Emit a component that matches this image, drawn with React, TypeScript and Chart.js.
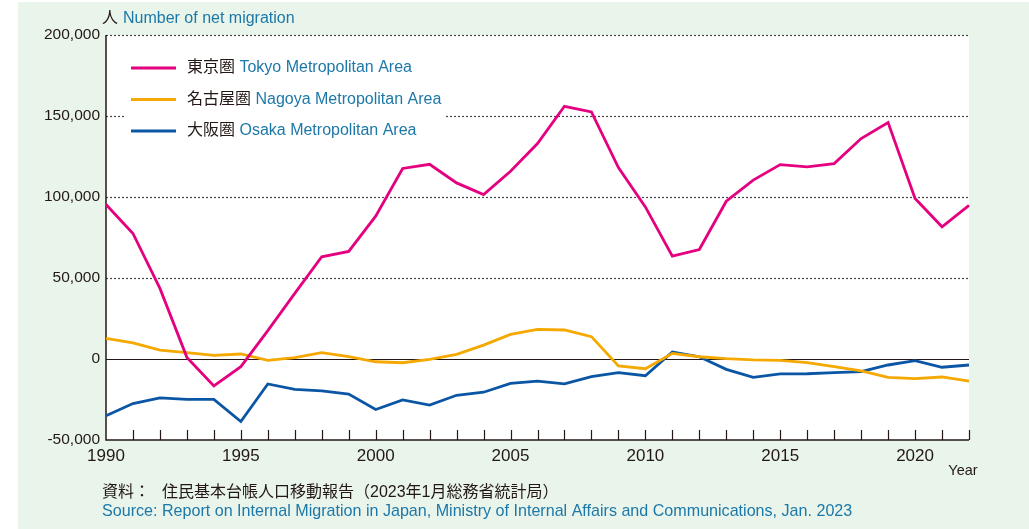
import React, { useEffect, useRef } from "react";
import { Chart, registerables } from "chart.js";

Chart.register(...registerables);

const years = [
  "1990", "1991", "1992", "1993", "1994", "1995", "1996", "1997", "1998", "1999",
  "2000", "2001", "2002", "2003", "2004", "2005", "2006", "2007", "2008", "2009",
  "2010", "2011", "2012", "2013", "2014", "2015", "2016", "2017", "2018", "2019",
  "2020", "2021", "2022",
];

const tokyo = [
  95400, 77500, 43600, 1000, -16600, -4700, 17500, 40500, 63100, 66400,
  88200, 117600, 120200, 108700, 101500, 115900, 133000, 156000, 152500, 118200,
  93900, 63500, 67600, 97400, 110400, 120000, 118600, 120600, 136100, 145900,
  99100, 81600, 94800,
];

const nagoya = [
  12800, 10000, 5500, 3900, 2300, 3100, -800, 800, 3900, 1400,
  -1700, -2300, -200, 2900, 8600, 15200, 18300, 17900, 13800, -4300,
  -6000, 3500, 1400, 200, -600, -800, -2300, -4700, -7400, -11300,
  -12100, -11100, -13600,
];

const osaka = [
  -35000, -27500, -24000, -24900, -24900, -38600, -15400, -18700, -19700, -21600,
  -31200, -25300, -28400, -22400, -20500, -15000, -13600, -15400, -10900, -8400,
  -10300, 4300, 1400, -6400, -11300, -9200, -9100, -8400, -7800, -3700,
  -1000, -5100, -3700,
];

const yTickValues = [-50000, 0, 50000, 100000, 150000, 200000];
const labeledYears = ["1990", "1995", "2000", "2005", "2010", "2015", "2020"];

const namesJa = ["東京圏", "名古屋圏", "大阪圏"];
const namesEn = ["Tokyo Metropolitan Area", "Nagoya Metropolitan Area", "Osaka Metropolitan Area"];
const seriesColors = ["#e4007f", "#f5a800", "#0a56a5"];

const axisTitleJa = "人";
const axisTitleEn = "Number of net migration";
const xAxisTitle = "Year";
const sourceJaLabel = "資料：";
const sourceJa = "住民基本台帳人口移動報告（2023年1月総務省統計局）";
const sourceEn =
  "Source: Report on Internal Migration in Japan, Ministry of Internal Affairs and Communications, Jan. 2023";

const FONT = "'Liberation Sans', 'Noto Sans CJK JP', sans-serif";
const BLUE = "#1c78a8";
const DARK = "#231815";

const decorPlugin = {
  id: "decor",
  beforeDraw(chart: any) {
    const { ctx, chartArea } = chart;
    ctx.save();
    ctx.fillStyle = "#e9f4eb";
    ctx.fillRect(18, 2, 1011, 527);
    ctx.fillStyle = "#ffffff";
    ctx.fillRect(chartArea.left, chartArea.top, chartArea.right - chartArea.left, chartArea.bottom - chartArea.top);
    ctx.restore();
  },
  beforeDatasetsDraw(chart: any) {
    const { ctx, chartArea, scales } = chart;
    const ys = scales.y;
    const xs = scales.x;
    ctx.save();
    ctx.strokeStyle = "#444";
    ctx.lineWidth = 1.2;
    ctx.setLineDash([2, 2]);
    yTickValues.forEach((v) => {
      if (v <= 0) return;
      const py = Math.round(ys.getPixelForValue(v)) + 0.5;
      ctx.beginPath();
      ctx.moveTo(chartArea.left, py);
      ctx.lineTo(chartArea.right, py);
      ctx.stroke();
    });
    ctx.setLineDash([]);
    ctx.fillStyle = "#ffffff";
    ctx.fillRect(126, 44, 320, 108);
    const legendY = [68, 99.5, 131];
    namesJa.forEach((ja, i) => {
      ctx.strokeStyle = seriesColors[i];
      ctx.lineWidth = 3;
      ctx.beginPath();
      ctx.moveTo(131, legendY[i]);
      ctx.lineTo(176, legendY[i]);
      ctx.stroke();
      ctx.font = `16px ${FONT}`;
      ctx.textBaseline = "middle";
      ctx.textAlign = "left";
      ctx.fillStyle = DARK;
      ctx.fillText(ja, 187, legendY[i]);
      const w = ctx.measureText(ja + " ").width;
      ctx.fillStyle = BLUE;
      ctx.fillText(namesEn[i], 187 + w, legendY[i]);
    });
    const zy = Math.round(ys.getPixelForValue(0)) + 0.5;
    ctx.strokeStyle = DARK;
    ctx.lineWidth = 1.2;
    ctx.beginPath();
    ctx.moveTo(chartArea.left, zy);
    ctx.lineTo(chartArea.right, zy);
    ctx.stroke();
    ctx.lineWidth = 1.5;
    ctx.beginPath();
    ctx.moveTo(chartArea.left, chartArea.top);
    ctx.lineTo(chartArea.left, chartArea.bottom);
    ctx.lineTo(chartArea.right, chartArea.bottom);
    ctx.stroke();
    ctx.lineWidth = 1.2;
    years.forEach((_, i) => {
      if (i === 0) return;
      const px = Math.round(xs.getPixelForValue(i)) + 0.5;
      ctx.beginPath();
      ctx.moveTo(px, chartArea.bottom);
      ctx.lineTo(px, chartArea.bottom - 10);
      ctx.stroke();
    });
    ctx.restore();
  },
  afterDraw(chart: any) {
    const { ctx } = chart;
    ctx.save();
    ctx.textBaseline = "middle";
    ctx.textAlign = "left";
    ctx.font = `16px ${FONT}`;
    ctx.fillStyle = DARK;
    ctx.fillText(axisTitleJa, 102, 19);
    ctx.fillStyle = BLUE;
    ctx.fillText(axisTitleEn, 123, 19);
    ctx.fillStyle = DARK;
    ctx.font = `14.5px ${FONT}`;
    ctx.textAlign = "center";
    ctx.fillText(xAxisTitle, 963, 471);
    ctx.textAlign = "left";
    ctx.font = `16px ${FONT}`;
    ctx.fillText(sourceJaLabel, 102, 493);
    ctx.fillText(sourceJa, 162, 493);
    ctx.fillStyle = BLUE;
    ctx.font = `16.1px ${FONT}`;
    ctx.fillText(sourceEn, 102, 512);
    ctx.restore();
  },
};

export default function App() {
  const canvasRef = useRef<HTMLCanvasElement | null>(null);

  useEffect(() => {
    if (!canvasRef.current) return;
    const chart = new Chart(canvasRef.current, {
      type: "line",
      data: {
        labels: years,
        datasets: [tokyo, nagoya, osaka].map((d, i) => ({
          label: namesJa[i] + " " + namesEn[i],
          data: d,
          borderColor: seriesColors[i],
          backgroundColor: seriesColors[i],
          borderWidth: 2.8,
          pointRadius: 0,
          tension: 0,
          fill: false,
        })),
      },
      options: {
        animation: false,
        responsive: false,
        devicePixelRatio: 1,
        layout: { padding: { left: 0, top: 35, right: 60, bottom: 0 } },
        plugins: { legend: { display: false }, tooltip: { enabled: false } },
        scales: {
          x: {
            type: "category",
            offset: false,
            grid: { display: false, drawTicks: false },
            border: { display: false },
            ticks: {
              autoSkip: false,
              maxRotation: 0,
              padding: 6,
              color: DARK,
              font: { family: FONT, size: 17 },
              callback: function (this: any, val: any) {
                const l = this.getLabelForValue(val);
                return labeledYears.includes(l) ? l : "";
              },
            },
            afterFit: (s: any) => {
              s.height = 89;
            },
          },
          y: {
            min: -50000,
            max: 200000,
            grid: { display: false, drawTicks: false },
            border: { display: false },
            afterBuildTicks: (s: any) => {
              s.ticks = yTickValues.map((v) => ({ value: v }));
            },
            ticks: {
              padding: 6,
              color: DARK,
              font: { family: FONT, size: 15.5 },
              callback: (v: any) => Number(v).toLocaleString("en-US"),
            },
            afterFit: (s: any) => {
              s.width = 106;
            },
          },
        },
      },
      plugins: [decorPlugin],
    });
    return () => chart.destroy();
  }, []);

  return (
    <div style={{ position: "absolute", left: 0, top: 0, width: 1029, height: 529 }}>
      <canvas ref={canvasRef} width={1029} height={529} style={{ width: 1029, height: 529, display: "block" }} />
    </div>
  );
}
